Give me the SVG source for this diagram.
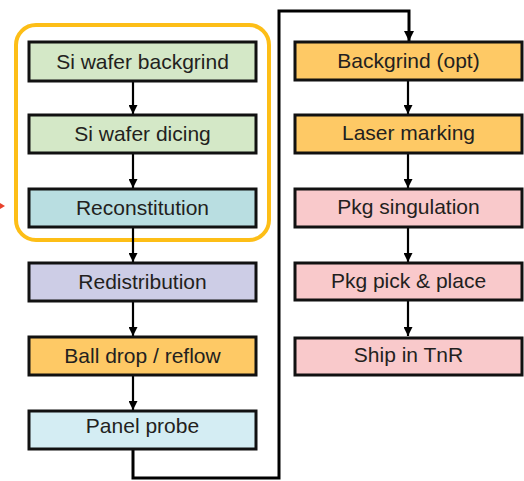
<svg xmlns="http://www.w3.org/2000/svg" width="524" height="481" viewBox="0 0 524 481">
<defs>
<style>
.box{stroke:#111;stroke-width:3}
.lbl{font-family:"Liberation Sans",Arial,sans-serif;font-size:21px;fill:#231f20;text-anchor:middle}
.con{fill:none;stroke:#000;stroke-width:2.2}
.flow{fill:none;stroke:#000;stroke-width:3}
</style>
<marker id="ah" viewBox="0 0 10 10" refX="10" refY="5" markerWidth="9" markerHeight="9" markerUnits="userSpaceOnUse" orient="auto">
<path d="M0,0 L10,5 L0,10 Z" fill="#000"/>
</marker>
<marker id="ah2" viewBox="0 0 10 10" refX="10" refY="5" markerWidth="10" markerHeight="10" markerUnits="userSpaceOnUse" orient="auto">
<path d="M0,0 L10,5 L0,10 Z" fill="#000"/>
</marker>
</defs>
<rect width="524" height="481" fill="#fff"/>
<polygon points="0,203 5,206 0,209" fill="#e8412c"/>
<rect id="group-frame" x="16" y="25" width="253" height="215" rx="20" fill="none" stroke="#fdbe17" stroke-width="4"/>
<g id="connectors">
<line class="con" x1="133" y1="81" x2="133" y2="114" marker-end="url(#ah)"/>
<line class="con" x1="133" y1="153" x2="133" y2="188" marker-end="url(#ah)"/>
<line class="con" x1="133" y1="227" x2="133" y2="262" marker-end="url(#ah)"/>
<line class="con" x1="133" y1="301" x2="133" y2="336" marker-end="url(#ah)"/>
<line class="con" x1="133" y1="375" x2="133" y2="410" marker-end="url(#ah)"/>
<polyline class="flow" points="133,449 133,478 279,478 279,11 409,11 409,41" marker-end="url(#ah2)"/>
<line class="con" x1="408" y1="80" x2="408" y2="114" marker-end="url(#ah)"/>
<line class="con" x1="408" y1="153" x2="408" y2="188" marker-end="url(#ah)"/>
<line class="con" x1="408" y1="227" x2="408" y2="262" marker-end="url(#ah)"/>
<line class="con" x1="408" y1="300" x2="408" y2="336" marker-end="url(#ah)"/>
</g>
<g id="n1"><rect class="box" x="29" y="42" width="227" height="39" fill="#d4e8c7"/><text class="lbl" x="142.5" y="68.5">Si wafer backgrind</text></g>
<g id="n2"><rect class="box" x="29" y="115" width="227" height="38" fill="#d4e8c7"/><text class="lbl" x="142.5" y="141">Si wafer dicing</text></g>
<g id="n3"><rect class="box" x="29" y="189" width="227" height="38" fill="#b9dee1"/><text class="lbl" x="142.5" y="215">Reconstitution</text></g>
<g id="n4"><rect class="box" x="29" y="263" width="227" height="38" fill="#cdcde6"/><text class="lbl" x="142.5" y="289">Redistribution</text></g>
<g id="n5"><rect class="box" x="29" y="337" width="227" height="38" fill="#fec965"/><text class="lbl" x="142.5" y="363">Ball drop / reflow</text></g>
<g id="n6"><rect class="box" x="29" y="411" width="227" height="38" fill="#d4edf3"/><text class="lbl" x="142.5" y="433">Panel probe</text></g>
<g id="n7"><rect class="box" x="295" y="42" width="227" height="38" fill="#fec965"/><text class="lbl" x="408.5" y="68">Backgrind (opt)</text></g>
<g id="n8"><rect class="box" x="295" y="115" width="227" height="38" fill="#fec965"/><text class="lbl" x="408.5" y="140">Laser marking</text></g>
<g id="n9"><rect class="box" x="295" y="189" width="227" height="38" fill="#f9c9cb"/><text class="lbl" x="408.5" y="214">Pkg singulation</text></g>
<g id="n10"><rect class="box" x="295" y="263" width="227" height="37" fill="#f9c9cb"/><text class="lbl" x="408.5" y="288">Pkg pick &amp; place</text></g>
<g id="n11"><rect class="box" x="295" y="338" width="227" height="37" fill="#f9c9cb"/><text class="lbl" x="408.5" y="362">Ship in TnR</text></g>
</svg>
